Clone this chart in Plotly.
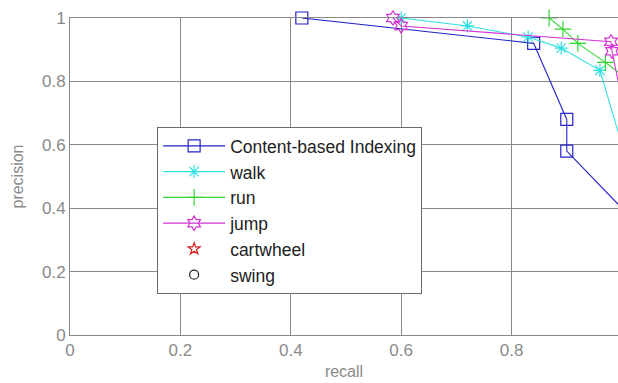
import plotly.graph_objects as go

# ---- data ----
cbi_recall = [0.42, 0.84, 0.90, 0.90, 1.00]
cbi_precision = [1.00, 0.92, 0.68, 0.58, 0.40]

walk_recall = [0.60, 0.72, 0.83, 0.89, 0.96, 1.00]
walk_precision = [1.00, 0.975, 0.94, 0.905, 0.835, 0.60]

run_recall = [0.868, 0.893, 0.92, 0.97, 1.00]
run_precision = [1.00, 0.965, 0.92, 0.86, 0.82]

jump_recall = [0.585, 0.60, 0.98, 0.982, 1.00]
jump_precision = [1.00, 0.975, 0.925, 0.895, 0.74]

cartwheel_recall = [1.00]
cartwheel_precision = [0.74]

swing_recall = [1.00]
swing_precision = [1.00]

x_ticks = [0, 0.2, 0.4, 0.6, 0.8, 1.0]
x_tick_labels = ["0", "0.2", "0.4", "0.6", "0.8", "1"]
y_ticks = [0, 0.2, 0.4, 0.6, 0.8, 1.0]
y_tick_labels = ["0", "0.2", "0.4", "0.6", "0.8", "1"]

FONT = "Liberation Sans, Arial, sans-serif"
GRAY = "#8a8a8a"

fig = go.Figure()

def add(name, x, y, color, symbol, size, mode="lines+markers", group="g"):
    fig.add_trace(go.Scatter(
        x=x, y=y, name=name, mode=mode, legendgroup=group,
        line=dict(color=color, width=1.1),
        marker=dict(symbol=symbol, size=size, color=color,
                    line=dict(color=color, width=1.2)),
        cliponaxis=False,
    ))

add("Content-based Indexing", cbi_recall, cbi_precision, "#2323c8", "square-open", 12, group="a")
add("walk", walk_recall, walk_precision, "#33e0e0", "asterisk-open", 11, group="b")
add("run", run_recall, run_precision, "#2fd62f", "cross-thin-open", 12, group="c")
add("jump", jump_recall, jump_precision, "#d633d6", "hexagram-open", 11, group="d")
add("cartwheel", cartwheel_recall, cartwheel_precision, "#d62020", "star-open", 9, mode="markers", group="e")
add("swing", swing_recall, swing_precision, "#202020", "circle-open", 9, mode="markers", group="f")

fig.update_layout(
    width=618, height=383,
    margin=dict(l=70, r=0, t=18, b=48),
    paper_bgcolor="white", plot_bgcolor="white",
    font=dict(family=FONT, size=17, color=GRAY),
    showlegend=True,
    legend=dict(
        x=0.159, y=0.656, xanchor="left", yanchor="top",
        bgcolor="white", bordercolor="#6a6a6a", borderwidth=1,
        font=dict(family=FONT, size=17.5, color="#222222"),
        traceorder="grouped", tracegroupgap=0,
        itemwidth=62,
    ),
)

fig.update_xaxes(
    range=[0, 0.9928], tickvals=x_ticks, ticktext=x_tick_labels,
    showgrid=True, gridcolor=GRAY, gridwidth=1,
    showline=True, linecolor=GRAY, linewidth=1, mirror=True,
    zeroline=False, ticks="",
    tickfont=dict(family=FONT, size=17, color=GRAY),
    title=dict(text="recall", font=dict(family=FONT, size=16, color=GRAY), standoff=6),
    automargin=False,
)
fig.update_yaxes(
    range=[0, 1], tickvals=y_ticks, ticktext=y_tick_labels,
    showgrid=True, gridcolor=GRAY, gridwidth=1,
    showline=True, linecolor=GRAY, linewidth=1, mirror=False,
    zeroline=False, ticks="",
    tickfont=dict(family=FONT, size=17, color=GRAY),
    title=dict(text="precision", font=dict(family=FONT, size=16, color=GRAY), standoff=14),
    automargin=False,
)

# remove the page's default body margin so the figure fills the window exactly
fig.write_html(
    "out.html",
    config={"displayModeBar": False},
    post_script="document.body.style.margin='0';document.documentElement.style.overflow='hidden';",
)
